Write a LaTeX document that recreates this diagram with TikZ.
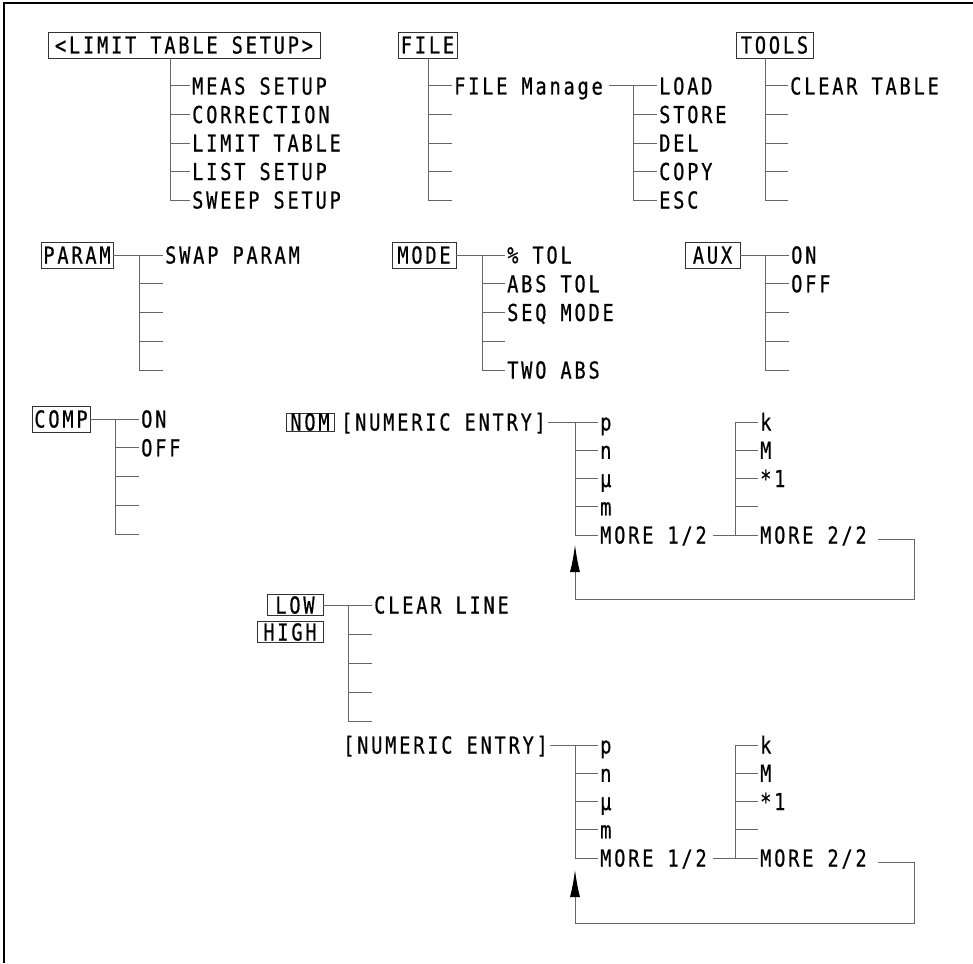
\documentclass[tikz,border=0pt]{standalone}
\usepackage{fontspec}
\usepackage{xcolor}
\usepackage{tikz}
\usetikzlibrary{arrows.meta}
\newfontfamily\menufont[FakeStretch=0.8,LetterSpace=12,FakeBold=0.6]{DejaVu Sans Mono}
\definecolor{MenuLine}{HTML}{666666}
\definecolor{MenuEdge}{HTML}{333333}

\begin{document}
\begin{tikzpicture}[
    x=1pt,y=-1pt,
    font=\menufont\fontsize{23.3pt}{28pt}\selectfont,
    menukey/.style={draw=MenuEdge,line width=0.9pt,fill=white,inner xsep=0pt,inner ysep=4.5pt,
      text height=17pt,text depth=0pt,minimum height=26pt},
    menuitem/.style={anchor=west,inner xsep=2pt,inner ysep=0pt,text height=17pt,text depth=0pt},
    tree/.style={line width=1pt,color=MenuLine},
    back/.style={tree,-{Latex[length=27pt,width=10pt,color=black]}}
  ]
    \useasboundingbox (0,0) rectangle (973,963);
    \draw[line width=2.5pt] (4,963) -- (4,3) -- (973,3);

    \node[menukey,minimum width=272pt] (setup) at (184,45) {<LIMIT TABLE SETUP>};
    \coordinate (setup-root) at (170,58);
    \foreach \t [count=\i from 0] in {MEAS SETUP,CORRECTION,LIMIT TABLE,LIST SETUP,SWEEP SETUP}
      \node[menuitem] (setup-\i) at (190,86+28.5*\i) {\t};
    \foreach \i in {0,...,4} \draw[tree] (setup-root) |- (setup-\i.west);

    \node[menukey,minimum width=59pt] (file) at (427.5,45) {FILE};
    \coordinate (file-root) at (428,58);
    \foreach \t [count=\i from 0] in {FILE Manage,{},{},{},{}}
      \node[menuitem] (file-\i) at (452,86+28.5*\i) {\t};
    \foreach \i in {0,...,4} \draw[tree] (file-root) |- (file-\i.west);
    \coordinate (manage-root) at (633,86);
    \foreach \t [count=\i from 0] in {LOAD,STORE,DEL,COPY,ESC}
      \node[menuitem] (manage-\i) at (657,86+28.5*\i) {\t};
    \draw[tree] ([xshift=4pt]file-0.east) -- (manage-0.west);
    \foreach \i in {1,...,4} \draw[tree] (manage-root) |- (manage-\i.west);

    \node[menukey,minimum width=77pt] (tools) at (774.5,45) {TOOLS};
    \coordinate (tools-root) at (765,58);
    \foreach \t [count=\i from 0] in {CLEAR TABLE,{},{},{},{}}
      \node[menuitem] (tools-\i) at (788,86+28.5*\i) {\t};
    \foreach \i in {0,...,4} \draw[tree] (tools-root) |- (tools-\i.west);

    \node[menukey,minimum width=72pt] (param) at (77,255) {PARAM};
    \coordinate (param-root) at (139,255);
    \foreach \t [count=\i from 0] in {SWAP PARAM,{},{},{},{}}
      \node[menuitem] (param-\i) at (163,255+28.75*\i) {\t};
    \draw[tree] (param.east) -- (param-0.west);
    \foreach \i in {1,...,4} \draw[tree] (param-root) |- (param-\i.west);

    \node[menukey,minimum width=64pt] (mode) at (424,255) {MODE};
    \coordinate (mode-root) at (482,255);
    \foreach \t [count=\i from 0] in {\% TOL,ABS TOL,SEQ MODE,{},TWO ABS}
      \node[menuitem] (mode-\i) at (505,255+28.75*\i) {\t};
    \draw[tree] (mode.east) -- (mode-0.west);
    \foreach \i in {1,...,4} \draw[tree] (mode-root) |- (mode-\i.west);

    \node[menukey,minimum width=55pt] (aux) at (712.5,255) {AUX};
    \coordinate (aux-root) at (765,255);
    \foreach \t [count=\i from 0] in {ON,OFF,{},{},{}}
      \node[menuitem] (aux-\i) at (789,255+28.75*\i) {\t};
    \draw[tree] (aux.east) -- (aux-0.west);
    \foreach \i in {1,...,4} \draw[tree] (aux-root) |- (aux-\i.west);

    \node[menukey,minimum width=58pt] (comp) at (61,419) {COMP};
    \coordinate (comp-root) at (115,419);
    \foreach \t [count=\i from 0] in {ON,OFF,{},{},{}}
      \node[menuitem] (comp-\i) at (139,419+28.75*\i) {\t};
    \draw[tree] (comp.east) -- (comp-0.west);
    \foreach \i in {1,...,4} \draw[tree] (comp-root) |- (comp-\i.west);

    \node[menukey,minimum width=48pt,minimum height=18pt,inner ysep=0.5pt] (nom) at (310,422) {NOM};
    \node[menuitem] (nom-entry) at (339,422) {[NUMERIC ENTRY]};
    \coordinate (nom-root) at (575,422);
    \foreach \t [count=\i from 0] in {p,n,μ,m,MORE 1/2}
      \node[menuitem] (nom-\i) at (598,422+28.25*\i) {\t};
    \draw[tree] (nom-entry.east) -- (nom-0.west);
    \foreach \i in {1,...,4} \draw[tree] (nom-root) |- (nom-\i.west);
    \coordinate (nomunit-root) at (735,535);
    \foreach \t [count=\i from 0] in {k,M,*1,{},MORE 2/2}
      \node[menuitem] (nomunit-\i) at (758,422+28.25*\i) {\t};
    \draw[tree] ([xshift=4pt]nom-4.east) -- (nomunit-4.west);
    \foreach \i in {0,...,3} \draw[tree] (nomunit-root) |- (nomunit-\i.west);
    \coordinate (nom-turn) at (914,599);
    \coordinate (nom-tip) at (575,545);
    \draw[back] ([xshift=9pt,yshift=-4pt]nomunit-4.east) -| (nom-turn) -| (nom-tip);

    \node[menukey,minimum width=56pt,minimum height=21pt,inner ysep=2pt] (low) at (295,605) {LOW};
    \node[menukey,minimum width=66pt,minimum height=21pt,inner ysep=2pt] (high) at (290,632) {HIGH};
    \coordinate (line-root) at (348,605);
    \foreach \t [count=\i from 0] in {CLEAR LINE,{},{},{},{}}
      \node[menuitem] (line-\i) at (372,605+29*\i) {\t};
    \draw[tree] (low.east) -- (line-0.west);
    \foreach \i in {1,...,4} \draw[tree] (line-root) |- (line-\i.west);

    \node[menuitem] (lim-entry) at (341,745) {[NUMERIC ENTRY]};
    \coordinate (lim-root) at (575,745);
    \foreach \t [count=\i from 0] in {p,n,μ,m,MORE 1/2}
      \node[menuitem] (lim-\i) at (598,745+28.25*\i) {\t};
    \draw[tree] (lim-entry.east) -- (lim-0.west);
    \foreach \i in {1,...,4} \draw[tree] (lim-root) |- (lim-\i.west);
    \coordinate (limunit-root) at (735,858);
    \foreach \t [count=\i from 0] in {k,M,*1,{},MORE 2/2}
      \node[menuitem] (limunit-\i) at (758,745+28.25*\i) {\t};
    \draw[tree] ([xshift=4pt]lim-4.east) -- (limunit-4.west);
    \foreach \i in {0,...,3} \draw[tree] (limunit-root) |- (limunit-\i.west);
    \coordinate (lim-turn) at (914,923);
    \coordinate (lim-tip) at (575,870);
    \draw[back] ([xshift=9pt,yshift=-4pt]limunit-4.east) -| (lim-turn) -| (lim-tip);
  \end{tikzpicture}
\end{document}
